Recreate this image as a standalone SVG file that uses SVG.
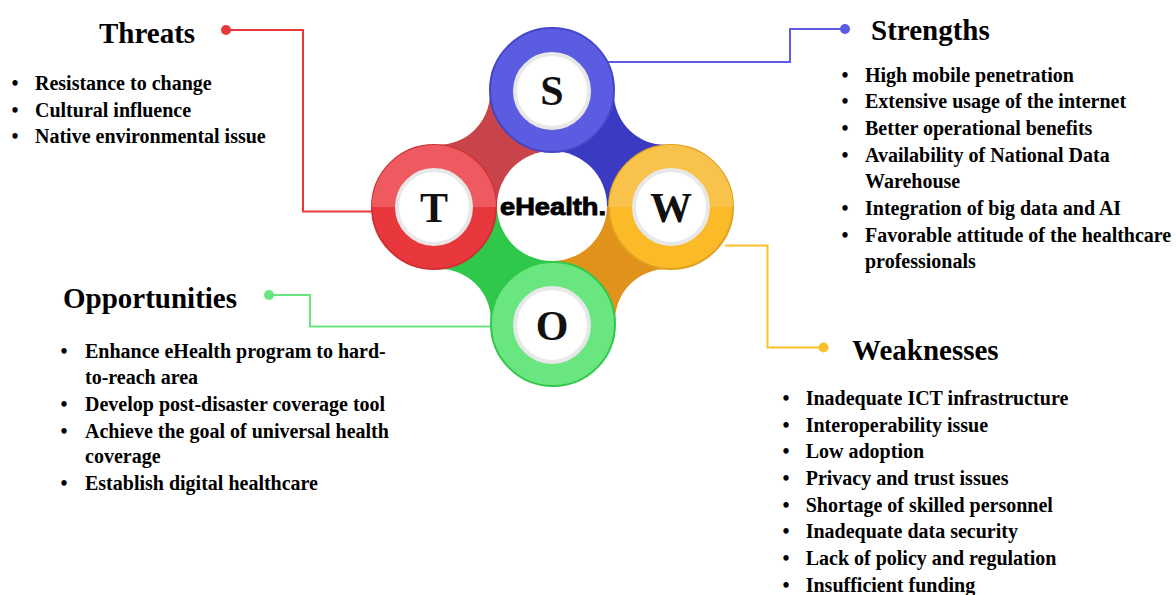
<svg xmlns="http://www.w3.org/2000/svg" width="1176" height="595" viewBox="0 0 1176 595">
<style>
.title{font-family:"Liberation Serif","Times New Roman",serif;font-weight:bold;font-size:29px;fill:#000}
.item{font-family:"Liberation Serif","Times New Roman",serif;font-weight:bold;font-size:20px;fill:#000}
.bul{font-family:"Liberation Serif","Times New Roman",serif;font-weight:bold;font-size:20px;fill:#000;text-anchor:middle}
.letter{font-family:"Liberation Serif","Times New Roman",serif;font-weight:bold;font-size:42px;fill:#111;text-anchor:middle}
.inner{fill:#fff;stroke:#E8E8E8;stroke-width:4}
.conn{fill:none;stroke-width:2}
</style>
<rect width="1176" height="595" fill="#fff"/>
<g id="connectors">
<path class="conn" d="M226,30 H303 V211.5 H380" stroke="#E8383C"/>
<circle cx="226" cy="30" r="5" fill="#E8383C"/>
<path class="conn" d="M845,29 H790 V62 H600" stroke="#5B5BE6"/>
<circle cx="845" cy="29" r="5" fill="#5B5BE6"/>
<path class="conn" d="M269,295 H310 V326.5 H500" stroke="#6AE681"/>
<circle cx="269" cy="295" r="5" fill="#6AE681"/>
<path class="conn" d="M823.5,347.5 H767.5 V245.5 H725" stroke="#FBBF2A"/>
<circle cx="823.5" cy="347.5" r="5" fill="#FBBF2A"/>
</g>
<g id="hub">
<path d="M434,207 L435.8,145 A52,52 0 0 0 490,92.2 L552,90 L552,206 Z" fill="#C8434A"/>
<path d="M552,90 L613.9,92.4 A52,52 0 0 0 669,145 L671,207 L552,206 Z" fill="#3A3AC2"/>
<path d="M671,207 L669,269 A52,52 0 0 0 615,322 L553,324 L552,206 Z" fill="#E0921A"/>
<path d="M553,324 L491,322.3 A52,52 0 0 0 436.7,268.9 L434,207 L552,206 Z" fill="#2FC84A"/>
<circle cx="552" cy="206" r="55" fill="#fff"/>
<text x="553" y="215" font-family="Liberation Sans, Arial, sans-serif" font-weight="bold" font-size="24" fill="#000" stroke="#000" stroke-width="0.9" textLength="106" lengthAdjust="spacingAndGlyphs" text-anchor="middle">eHealth.</text>
</g>
<g id="node-S">
<circle cx="552" cy="90" r="62" fill="#5C5CE2" stroke="#4545C8" stroke-width="2"/>
<circle class="inner" cx="552" cy="91" r="37"/>
<text class="letter" x="552" y="105">S</text>
</g>
<g id="node-T">
<circle cx="434" cy="207" r="62" fill="#E8383D" stroke="#D02F34" stroke-width="2"/>
<path d="M372,207 A62,62 0 0 1 496,207 Z" fill="#EE5A5F"/>
<circle class="inner" cx="434" cy="207" r="37"/>
<text class="letter" x="434" y="222">T</text>
</g>
<g id="node-W">
<circle cx="671" cy="207" r="62" fill="#FBBA28" stroke="#E0A01E" stroke-width="2"/>
<path d="M609,207 A62,62 0 0 1 733,207 Z" fill="#F9C24B"/>
<circle class="inner" cx="671" cy="207" r="37"/>
<text class="letter" x="671" y="222">W</text>
</g>
<g id="node-O">
<circle cx="553" cy="324" r="62" fill="#6AE681" stroke="#2EC84A" stroke-width="2"/>
<circle class="inner" cx="552" cy="325" r="37"/>
<text class="letter" x="552" y="340">O</text>
</g>
<g id="threats">
<text class="title" x="99" y="43">Threats</text>
<text class="bul" x="15" y="90">•</text><text class="item" x="35" y="90">Resistance to change</text>
<text class="bul" x="15" y="116.5">•</text><text class="item" x="35" y="116.5">Cultural influence</text>
<text class="bul" x="15" y="143">•</text><text class="item" x="35" y="143">Native environmental issue</text>
</g>
<g id="strengths">
<text class="title" x="871" y="40">Strengths</text>
<text class="bul" x="845" y="81.7">•</text><text class="item" x="865" y="81.7">High mobile penetration</text>
<text class="bul" x="845" y="108.3">•</text><text class="item" x="865" y="108.3">Extensive usage of the internet</text>
<text class="bul" x="845" y="135">•</text><text class="item" x="865" y="135">Better operational benefits</text>
<text class="bul" x="845" y="161.7">•</text><text class="item" x="865" y="161.7">Availability  of National Data</text>
<text class="item" x="865" y="188.3">Warehouse</text>
<text class="bul" x="845" y="215">•</text><text class="item" x="865" y="215">Integration of big data and AI</text>
<text class="bul" x="845" y="241.7">•</text><text class="item" x="865" y="241.7">Favorable attitude of the healthcare</text>
<text class="item" x="865" y="268.3">professionals</text>
</g>
<g id="opportunities">
<text class="title" x="63" y="308">Opportunities</text>
<text class="bul" x="64" y="358.3">•</text><text class="item" x="85" y="358.3">Enhance eHealth program to hard-</text>
<text class="item" x="85" y="384.3">to-reach area</text>
<text class="bul" x="64" y="411">•</text><text class="item" x="85" y="411">Develop post-disaster coverage tool</text>
<text class="bul" x="64" y="437.7">•</text><text class="item" x="85" y="437.7">Achieve the goal of universal  health</text>
<text class="item" x="85" y="463.3">coverage</text>
<text class="bul" x="64" y="490">•</text><text class="item" x="85" y="490">Establish digital  healthcare</text>
</g>
<g id="weaknesses">
<text class="title" x="852" y="360">Weaknesses</text>
<text class="bul" x="786" y="405">•</text><text class="item" x="805.7" y="405">Inadequate ICT  infrastructure</text>
<text class="bul" x="786" y="431.7">•</text><text class="item" x="805.7" y="431.7">Interoperability  issue</text>
<text class="bul" x="786" y="458.3">•</text><text class="item" x="805.7" y="458.3">Low adoption</text>
<text class="bul" x="786" y="485">•</text><text class="item" x="805.7" y="485">Privacy  and trust issues</text>
<text class="bul" x="786" y="511.7">•</text><text class="item" x="805.7" y="511.7">Shortage of skilled  personnel</text>
<text class="bul" x="786" y="538.3">•</text><text class="item" x="805.7" y="538.3">Inadequate data  security</text>
<text class="bul" x="786" y="565">•</text><text class="item" x="805.7" y="565">Lack  of policy  and regulation</text>
<text class="bul" x="786" y="591.7">•</text><text class="item" x="805.7" y="591.7">Insufficient  funding</text>
</g>
</svg>
